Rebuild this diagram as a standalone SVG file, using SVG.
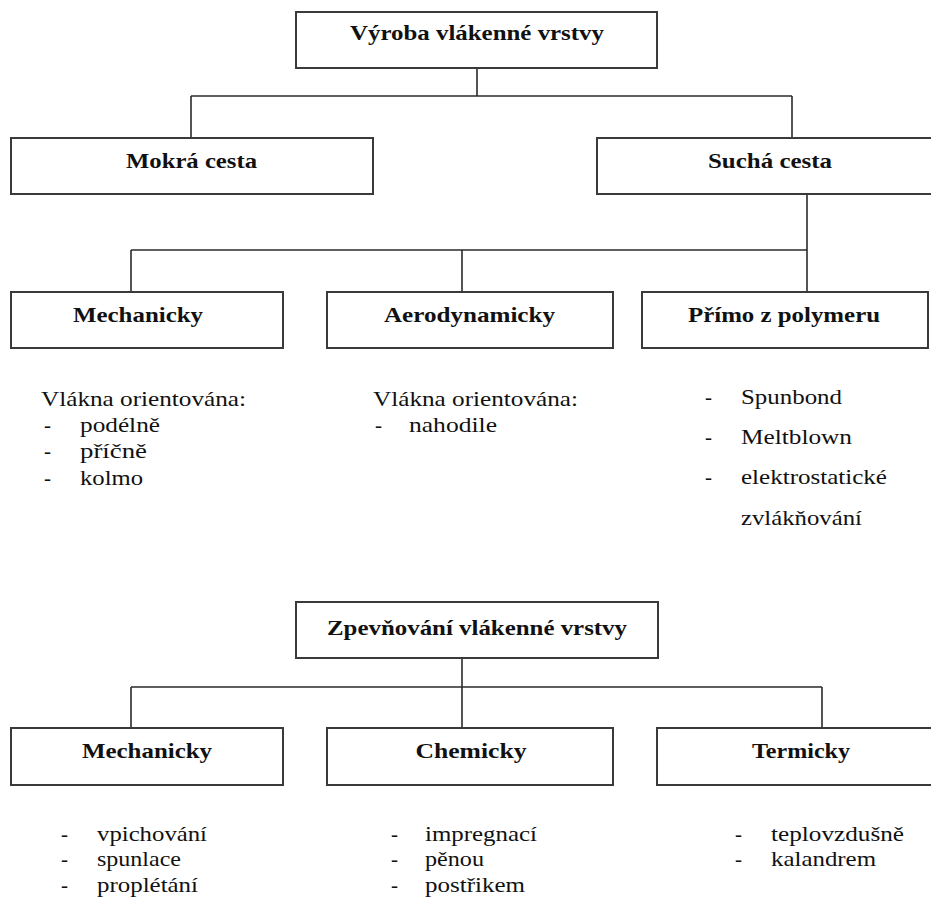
<svg xmlns="http://www.w3.org/2000/svg" width="931" height="898" viewBox="0 0 931 898">
<style>
.box{fill:#fff;stroke:#3a3a3a;stroke-width:2}
.conn line{stroke:#2a2a2a;stroke-width:1.6}
text{font-family:'Liberation Serif','DejaVu Serif','Noto Serif',serif;fill:#111}
.t{font-weight:bold;font-size:21px;text-anchor:middle}
.l{font-size:21px}
</style>
<rect width="931" height="898" fill="#fff"/>
<g id="connectors" class="conn">
<line x1="477" y1="68" x2="477" y2="96"/>
<line x1="191" y1="96" x2="792" y2="96"/>
<line x1="191" y1="96" x2="191" y2="138"/>
<line x1="792" y1="96" x2="792" y2="138"/>
<line x1="807" y1="194" x2="807" y2="292"/>
<line x1="131" y1="250" x2="807" y2="250"/>
<line x1="131" y1="250" x2="131" y2="292"/>
<line x1="462" y1="250" x2="462" y2="292"/>
<line x1="462" y1="658" x2="462" y2="728"/>
<line x1="131" y1="687" x2="822" y2="687"/>
<line x1="131" y1="687" x2="131" y2="728"/>
<line x1="822" y1="687" x2="822" y2="728"/>
</g>
<g id="vyroba"><rect class="box" x="296" y="12" width="361" height="56"/><text class="t" x="477" y="40" textLength="254" lengthAdjust="spacingAndGlyphs">Výroba vlákenné vrstvy</text></g>
<g id="mokra"><rect class="box" x="11" y="138" width="362" height="56"/><text class="t" x="191.5" y="168" textLength="131" lengthAdjust="spacingAndGlyphs">Mokrá cesta</text></g>
<g id="sucha"><rect class="box" x="597" y="138" width="340" height="56"/><text class="t" x="770" y="168" textLength="124" lengthAdjust="spacingAndGlyphs">Suchá cesta</text></g>
<g id="mech1"><rect class="box" x="11" y="292" width="272" height="56"/><text class="t" x="138" y="322" textLength="130" lengthAdjust="spacingAndGlyphs">Mechanicky</text></g>
<g id="aero"><rect class="box" x="327" y="292" width="286" height="56"/><text class="t" x="469.5" y="322" textLength="171" lengthAdjust="spacingAndGlyphs">Aerodynamicky</text></g>
<g id="primo"><rect class="box" x="642" y="292" width="286" height="56"/><text class="t" x="784" y="322" textLength="192" lengthAdjust="spacingAndGlyphs">Přímo z polymeru</text></g>
<g id="list-mech1">
<text class="l" x="41" y="406" textLength="205" lengthAdjust="spacingAndGlyphs">Vlákna orientována:</text>
<text class="l" x="44" y="432">-</text><text class="l" x="80" y="432" textLength="80" lengthAdjust="spacingAndGlyphs">podélně</text>
<text class="l" x="44" y="458">-</text><text class="l" x="80" y="458" textLength="67" lengthAdjust="spacingAndGlyphs">příčně</text>
<text class="l" x="44" y="485">-</text><text class="l" x="80" y="485" textLength="63" lengthAdjust="spacingAndGlyphs">kolmo</text>
</g>
<g id="list-aero">
<text class="l" x="373" y="406" textLength="205" lengthAdjust="spacingAndGlyphs">Vlákna orientována:</text>
<text class="l" x="375" y="432">-</text><text class="l" x="409" y="432" textLength="88" lengthAdjust="spacingAndGlyphs">nahodile</text>
</g>
<g id="list-primo">
<text class="l" x="705" y="404">-</text><text class="l" x="741" y="404" textLength="101" lengthAdjust="spacingAndGlyphs">Spunbond</text>
<text class="l" x="705" y="444">-</text><text class="l" x="741" y="444" textLength="111" lengthAdjust="spacingAndGlyphs">Meltblown</text>
<text class="l" x="705" y="484">-</text><text class="l" x="741" y="484" textLength="146" lengthAdjust="spacingAndGlyphs">elektrostatické</text>
<text class="l" x="741" y="525" textLength="121" lengthAdjust="spacingAndGlyphs">zvlákňování</text>
</g>
<g id="zpevnovani"><rect class="box" x="296" y="602" width="362" height="56"/><text class="t" x="477" y="635" textLength="300" lengthAdjust="spacingAndGlyphs">Zpevňování vlákenné vrstvy</text></g>
<g id="mech2"><rect class="box" x="11" y="728" width="272" height="57"/><text class="t" x="147" y="758" textLength="130" lengthAdjust="spacingAndGlyphs">Mechanicky</text></g>
<g id="chem"><rect class="box" x="327" y="728" width="286" height="57"/><text class="t" x="471" y="758" textLength="111" lengthAdjust="spacingAndGlyphs">Chemicky</text></g>
<g id="term"><rect class="box" x="657" y="728" width="280" height="57"/><text class="t" x="801" y="758" textLength="98" lengthAdjust="spacingAndGlyphs">Termicky</text></g>
<g id="list-mech2">
<text class="l" x="61" y="841">-</text><text class="l" x="97" y="841" textLength="110" lengthAdjust="spacingAndGlyphs">vpichování</text>
<text class="l" x="61" y="866">-</text><text class="l" x="97" y="866" textLength="84" lengthAdjust="spacingAndGlyphs">spunlace</text>
<text class="l" x="61" y="892">-</text><text class="l" x="97" y="892" textLength="101" lengthAdjust="spacingAndGlyphs">proplétání</text>
</g>
<g id="list-chem">
<text class="l" x="391" y="841">-</text><text class="l" x="425" y="841" textLength="112" lengthAdjust="spacingAndGlyphs">impregnací</text>
<text class="l" x="391" y="866">-</text><text class="l" x="425" y="866" textLength="59" lengthAdjust="spacingAndGlyphs">pěnou</text>
<text class="l" x="391" y="892">-</text><text class="l" x="425" y="892" textLength="100" lengthAdjust="spacingAndGlyphs">postřikem</text>
</g>
<g id="list-term">
<text class="l" x="735" y="841">-</text><text class="l" x="771" y="841" textLength="133" lengthAdjust="spacingAndGlyphs">teplovzdušně</text>
<text class="l" x="735" y="866">-</text><text class="l" x="771" y="866" textLength="105" lengthAdjust="spacingAndGlyphs">kalandrem</text>
</g>
</svg>
